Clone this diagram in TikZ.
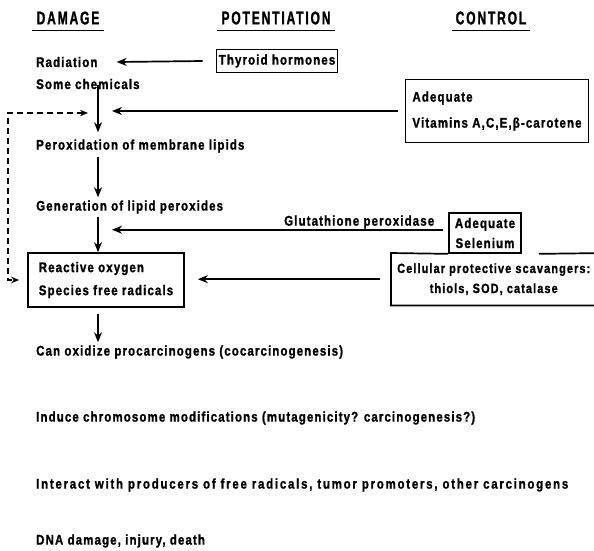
\documentclass[tikz,border=0pt]{standalone}
\usepackage{fontspec}
\setmainfont{Liberation Sans}[FakeStretch=0.82, LetterSpace=8, BoldFeatures={FakeBold=1.2}]
\newfontfamily\headfont{Liberation Sans}[FakeStretch=0.65, LetterSpace=10, BoldFeatures={FakeBold=1.2}]
\usetikzlibrary{arrows.meta, positioning, calc}
\tikzset{
  lbl/.style={anchor=west, inner sep=1pt, font=\fontsize{14}{17}\selectfont\bfseries},
  headnode/.style={inner sep=1pt, font=\headfont\fontsize{18.5}{21}\selectfont\bfseries},
  framebox/.style={rectangle, draw=black, line width=1.7pt, inner xsep=7pt,
                   font=\fontsize{14}{17}\selectfont\bfseries},
  arrow/.style={-{Stealth[length=10pt,width=8pt]}, line width=1.7pt},
  dasharrow/.style={{Stealth[length=8pt,width=6.5pt]}-{Stealth[length=8pt,width=6.5pt]},
                    line width=1.4pt, dash pattern=on 6pt off 4pt},
  uline/.style={line width=1.4pt},
  boxline/.style={line width=1.7pt}
}

\begin{document}
\begin{tikzpicture}[x=1pt, y=-1pt]

  \useasboundingbox (0,0) rectangle (594,550);
  \fill[white] (0,0) rectangle (594,550);

  % ── Headings ──
  \node[headnode] (damage) at (68,18) {DAMAGE};
  \node[headnode] (potent) at (276,18) {POTENTIATION};
  \node[headnode] (control) at (491,18) {CONTROL};
  \foreach \h in {damage, potent, control}
    \draw[uline] ([shift={(-3pt,-5pt)}]\h.south west) -- ([shift={(3pt,-5pt)}]\h.south east);

  % ── Damage column ──
  \coordinate (spine) at (98,0);
  \node[lbl] (rad) at (35,62) {Radiation};
  \node[lbl] (chem) at (35,84) {Some chemicals};
  \node[lbl] (perox) at (35,146) {Peroxidation of membrane lipids};
  \node[lbl] (gen) at (35,207) {Generation of lipid peroxides};
  \node[framebox, align=left, minimum width=156pt, minimum height=54pt] (ros) at (106,280)
      {Reactive oxygen\\[6pt]Species free radicals};
  \node[lbl] (can) at (35,352) {Can oxidize procarcinogens (cocarcinogenesis)};
  \node[lbl] (induce) at (35,418) {Induce chromosome modifications (mutagenicity? carcinogenesis?)};
  \node[lbl] (interact) at (35,485) {\addfontfeature{LetterSpace=12.5}Interact with producers of free radicals, tumor promoters, other carcinogens};
  \node[lbl] (dna) at (35,541) {DNA damage, injury, death};

  % ── Potentiation / control ──
  \node[framebox, inner xsep=2pt, minimum width=121pt, minimum height=23pt] (thyroid) at (277,61)
      {Thyroid hormones};
  \node[framebox, align=left, minimum width=175pt, minimum height=63pt] (vit) at (497,111)
      {Adequate\\[9pt]Vitamins A,C,E,β-carotene};
  \node[lbl] (glut) at (283,222) {Glutathione peroxidase};
  \node[framebox, align=center, inner xsep=3pt, minimum width=72pt, minimum height=40pt] (sel) at (485,233)
      {Adequate\\[3pt]Selenium};
  \node[anchor=north west, align=center, inner xsep=6pt, minimum height=52pt,
        font=\fontsize{13.4}{16}\selectfont\bfseries] (cell) at (391,253)
      {Cellular protective scavangers:\\[4pt]thiols, SOD, catalase};
  \draw[boxline] (sel.south west) -- (cell.north west) -- (cell.south west) -- ([xshift=10pt]cell.south east);
  \draw[boxline] ([xshift=17pt]sel.south east) -- ([xshift=10pt]cell.north east);

  % ── ARROWS ──
  \draw[arrow] ([xshift=-13pt]thyroid.west) -- ([xshift=18pt]rad.east);
  \draw[arrow] (chem.south -| spine) ++(0,-5) -- ([yshift=6pt]perox.north -| spine);
  \draw[arrow] ([xshift=-7pt]vit.west) -- ([xshift=14pt]spine |- vit.west);
  \draw[arrow] ([yshift=-3pt]perox.south -| spine) -- ([yshift=2pt]gen.north -| spine);
  \draw[arrow] ([yshift=-2pt]gen.south -| spine) -- (ros.north -| spine);
  \draw[arrow] ([xshift=8pt]glut.south east) -- ([xshift=14pt]spine |- glut.south);
  \draw[arrow] ([xshift=-11pt]cell.west) -- ([xshift=13pt]cell.west -| ros.east);
  \draw[arrow] ([yshift=-6pt]ros.south -| spine) -- ([yshift=2pt]can.north -| spine);
  \coordinate (loop) at (8,113);
  \draw[dasharrow] ([xshift=-10pt]spine |- loop) -- (loop) |- ([xshift=-8pt]ros.west);

\end{tikzpicture}
\end{document}
